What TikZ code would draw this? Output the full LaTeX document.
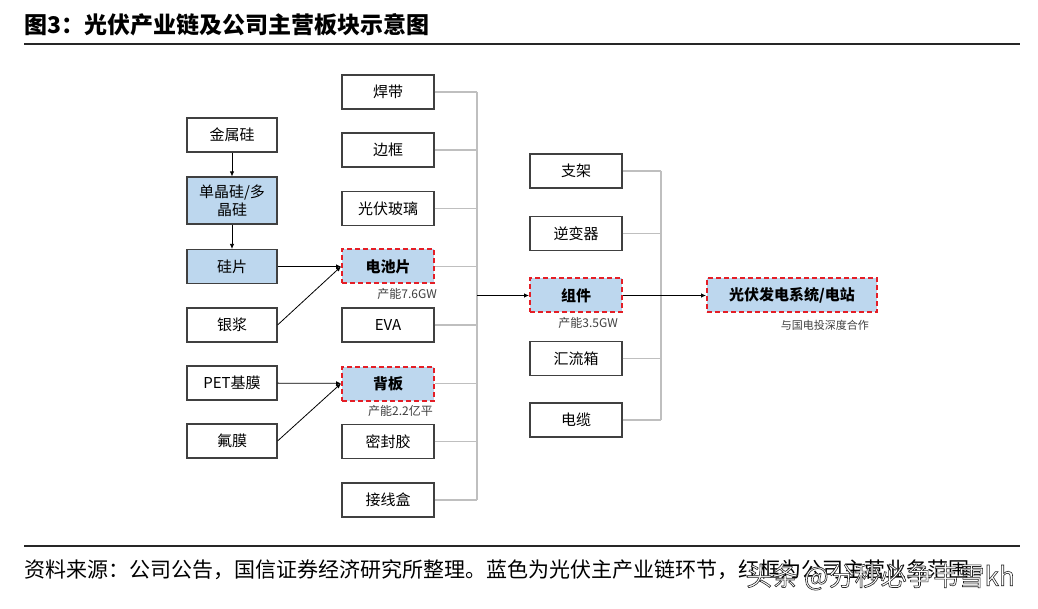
\documentclass[tikz,border=0pt]{standalone}
\usepackage{fontspec}
\setmainfont{Noto Sans CJK SC}
\usepackage{xcolor}
\usepackage{tikz}
\definecolor{pvblue}{RGB}{189, 215, 238}
\definecolor{pvred}{RGB}{228, 30, 38}
\definecolor{pvgray}{RGB}{191, 191, 191}
\definecolor{pvdark}{RGB}{64, 64, 64}
\usetikzlibrary{arrows.meta,positioning,calc}

\begin{document}
\begin{tikzpicture}[x=1pt, y=-1pt, >={Latex[length=5pt,width=4.5pt]}]
    \tikzstyle{material} = [rectangle, draw=pvdark, line width=1.1pt, fill=white,
                            minimum width=90pt, minimum height=34pt, inner sep=0pt,
                            align=center, font=\fontsize{15}{18}\selectfont]
    \tikzstyle{mainlink} = [material, fill=pvblue]
    \tikzstyle{business} = [material, fill=pvblue, draw=pvred, line width=2pt,
                            dash pattern=on 5pt off 3pt, font=\fontsize{15}{18}\selectfont\bfseries]
    \tikzstyle{capnote} = [anchor=east, inner sep=0pt, text=pvdark,
                           font=\fontsize{12}{14}\selectfont]
    \tikzstyle{feedline} = [pvgray, line width=1.5pt]
    \tikzstyle{flowarrow} = [->, black, line width=0.8pt]

    \useasboundingbox[fill=white] (0,0) rectangle (1038,609);

    % Title and rules
    \node[anchor=west, inner sep=0pt, font=\fontsize{23}{26}\selectfont\bfseries] (title) at (24,25) {图3：光伏产业链及公司主营板块示意图};
    \draw[line width=1.2pt, black!85] (24,44) -- (1020,44);
    \draw[line width=1.2pt, black!85] (24,546) -- (1020,546);

    % Upstream column
    \node[material] (metal) at (232,135) {金属硅};
    \node[mainlink, minimum height=47pt] (silicon) at (232,200.5) {单晶硅/多\\晶硅};
    \node[mainlink] (wafer) at (232,266.5) {硅片};
    \node[material] (paste) at (232,325) {银浆};
    \node[material] (pet) at (232,383) {PET基膜};
    \node[material] (fluoro) at (232,441) {氟膜};

    % Module materials column
    \node[material, minimum width=92pt] (ribbon) at (388,92) {焊带};
    \node[material, minimum width=92pt] (frame) at (388,150) {边框};
    \node[material, minimum width=92pt] (glass) at (388,208.5) {光伏玻璃};
    \node[business, minimum width=92pt] (cell) at (388,266.5) {电池片};
    \node[material, minimum width=92pt] (eva) at (388,325) {EVA};
    \node[business, minimum width=92pt] (backsheet) at (388,383.5) {背板};
    \node[material, minimum width=92pt] (sealant) at (388,441.5) {密封胶};
    \node[material, minimum width=92pt] (jbox) at (388,500) {接线盒};

    % System parts column
    \node[material, minimum width=92pt] (mount) at (576,171) {支架};
    \node[material, minimum width=92pt] (inverter) at (576,233.5) {逆变器};
    \node[business, minimum width=92pt] (module) at (576,295.5) {组件};
    \node[material, minimum width=92pt] (combiner) at (576,358.5) {汇流箱};
    \node[material, minimum width=92pt] (cable) at (576,420) {电缆};

    % Power station
    \node[business, minimum width=170pt] (station) at (792,295.5) {光伏发电系统/电站};

    % Capacity notes
    \node[capnote] (cellcap) at (437,294) {产能7.6GW};
    \node[capnote] (backcap) at (433,410.5) {产能2.2亿平};
    \node[capnote] (modcap) at (618,323) {产能3.5GW};
    \node[capnote, font=\fontsize{11}{13}\selectfont] (stationnote) at (869,325) {与国电投深度合作};

    % Collecting buses
    \coordinate (busa) at (477,295.5);
    \coordinate (busb) at (661,295.5);

    % Main chain arrows
    \draw[flowarrow] (metal) -- (silicon);
    \draw[flowarrow] (silicon) -- (wafer);
    \draw[flowarrow] (wafer) -- (cell);
    \draw[flowarrow] (paste.east) -- (cell.west);
    \draw[flowarrow] (pet) -- (backsheet);
    \draw[flowarrow] (fluoro.east) -- (backsheet.west);

    % Materials into module
    \draw[feedline] (ribbon.east) -- (ribbon.east -| busa);
    \draw[feedline] (frame.east) -- (frame.east -| busa);
    \draw[feedline] (glass.east) -- (glass.east -| busa);
    \draw[feedline] (cell.east) -- (cell.east -| busa);
    \draw[feedline] (eva.east) -- (eva.east -| busa);
    \draw[feedline] (backsheet.east) -- (backsheet.east -| busa);
    \draw[feedline] (sealant.east) -- (sealant.east -| busa);
    \draw[feedline] (jbox.east) -- (jbox.east -| busa);
    \draw[feedline] (ribbon.east -| busa) -- (jbox.east -| busa);
    \draw[flowarrow] (busa) -- (module);

    % Parts into station
    \draw[feedline] (mount.east) -- (mount.east -| busb);
    \draw[feedline] (inverter.east) -- (inverter.east -| busb);
    \draw[feedline] (combiner.east) -- (combiner.east -| busb);
    \draw[feedline] (cable.east) -- (cable.east -| busb);
    \draw[feedline] (mount.east -| busb) -- (cable.east -| busb);
    \draw[flowarrow] (module) -- (station);

    % Source line and watermark
    \node[anchor=west, inner sep=0pt, font=\fontsize{21}{24}\selectfont] (source) at (24,570) {资料来源：公司公告，国信证券经济研究所整理。蓝色为光伏主产业链环节，红框为公司主营业务范围};
    \node[anchor=west, inner sep=0pt, font=\fontsize{26}{30}\selectfont] (mark) at (746,577) {\color{white}\special{pdf:literal direct 2 Tr 0.15 0.15 0.15 RG 0.6 w}头条 @分秒必争韦雪kh\special{pdf:literal direct 0 Tr}};
\end{tikzpicture}
\end{document}
